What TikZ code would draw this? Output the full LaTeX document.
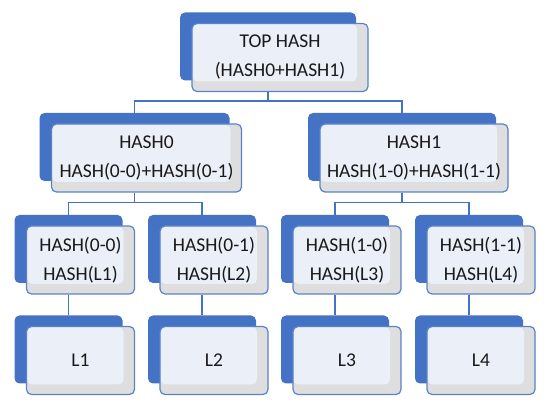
\documentclass[tikz,border=0pt]{standalone}
\usepackage{fontspec}
\setmainfont{Carlito}
\usepackage{tikz}
\usetikzlibrary{positioning}

\definecolor{hashblue}{HTML}{4472C4}
\definecolor{hashedge}{HTML}{5A82C8}
\definecolor{hashgray}{HTML}{DEDEDE}
\definecolor{hashlight}{HTML}{EAEFF8}

\tikzset{
  backbox/.style={rectangle,rounded corners=5pt,fill=hashblue,inner sep=0pt,
    minimum height=68pt},
  frontbox/.style={rectangle,rounded corners=5pt,draw=hashedge,line width=1.2pt,
    fill=hashgray,inner sep=0pt,minimum height=68pt,align=center,
    font=\fontsize{19.5}{29}\selectfont,text=black!90,
    path picture={\fill[hashlight] ([shift={(0.6pt,-0.6pt)}]path picture bounding box.north west)
      rectangle ([shift={(-11pt,10pt)}]path picture bounding box.south east);}},
  link/.style={draw=hashblue,line width=1.6pt}
}

\begin{document}
\begin{tikzpicture}[x=1pt,y=-1pt]
\useasboundingbox (0,0) rectangle (550,411);
% top
\node[backbox,minimum width=176pt] (topb) at (268,46.5) {};
\node[frontbox,minimum width=176pt] (top) at ([shift={(12,11)}]topb.center) {TOP HASH\\(HASH0+HASH1)};
% second row
\node[backbox,minimum width=190pt] (h0b) at (134.5,147) {};
\node[frontbox,minimum width=190pt] (h0) at ([shift={(12,11)}]h0b.center) {HASH0\\HASH(0-0)+HASH(0-1)};
\node[backbox,minimum width=188pt] (h1b) at (402,147) {};
\node[frontbox,minimum width=188pt] (h1) at ([shift={(12,11)}]h1b.center) {HASH1\\HASH(1-0)+HASH(1-1)};
% third row
\node[backbox,minimum width=108pt] (h00b) at (68.5,249) {};
\node[frontbox,minimum width=108pt] (h00) at ([shift={(12,11)}]h00b.center) {HASH(0-0)\\HASH(L1)};
\node[backbox,minimum width=108pt] (h01b) at (202,249) {};
\node[frontbox,minimum width=108pt] (h01) at ([shift={(12,11)}]h01b.center) {HASH(0-1)\\HASH(L2)};
\node[backbox,minimum width=108pt] (h10b) at (335,249) {};
\node[frontbox,minimum width=108pt] (h10) at ([shift={(12,11)}]h10b.center) {HASH(1-0)\\HASH(L3)};
\node[backbox,minimum width=108pt] (h11b) at (469,249) {};
\node[frontbox,minimum width=108pt] (h11) at ([shift={(12,11)}]h11b.center) {HASH(1-1)\\HASH(L4)};
% leaves
\node[backbox,minimum width=108pt] (l1b) at (68.5,349.5) {};
\node[frontbox,minimum width=108pt] (l1) at ([shift={(12,11)}]l1b.center) {L1};
\node[backbox,minimum width=108pt] (l2b) at (202,349.5) {};
\node[frontbox,minimum width=108pt] (l2) at ([shift={(12,11)}]l2b.center) {L2};
\node[backbox,minimum width=108pt] (l3b) at (335,349.5) {};
\node[frontbox,minimum width=108pt] (l3) at ([shift={(12,11)}]l3b.center) {L3};
\node[backbox,minimum width=108pt] (l4b) at (469,349.5) {};
\node[frontbox,minimum width=108pt] (l4) at ([shift={(12,11)}]l4b.center) {L4};
% links
\draw[link] (top.south -| topb.south) -- ++(0,9) -| (h0b.north);
\draw[link] (top.south -| topb.south) -- ++(0,9) -| (h1b.north);
\draw[link] (h0.south -| h0b.south) -- ++(0,10) -| (h00b.north);
\draw[link] (h0.south -| h0b.south) -- ++(0,10) -| (h01b.north);
\draw[link] (h1.south -| h1b.south) -- ++(0,10) -| (h10b.north);
\draw[link] (h1.south -| h1b.south) -- ++(0,10) -| (h11b.north);
\draw[link] (h00.south -| h00b.south) -- (l1b.north);
\draw[link] (h01.south -| h01b.south) -- (l2b.north);
\draw[link] (h10.south -| h10b.south) -- (l3b.north);
\draw[link] (h11.south -| h11b.south) -- (l4b.north);
\end{tikzpicture}
\end{document}
